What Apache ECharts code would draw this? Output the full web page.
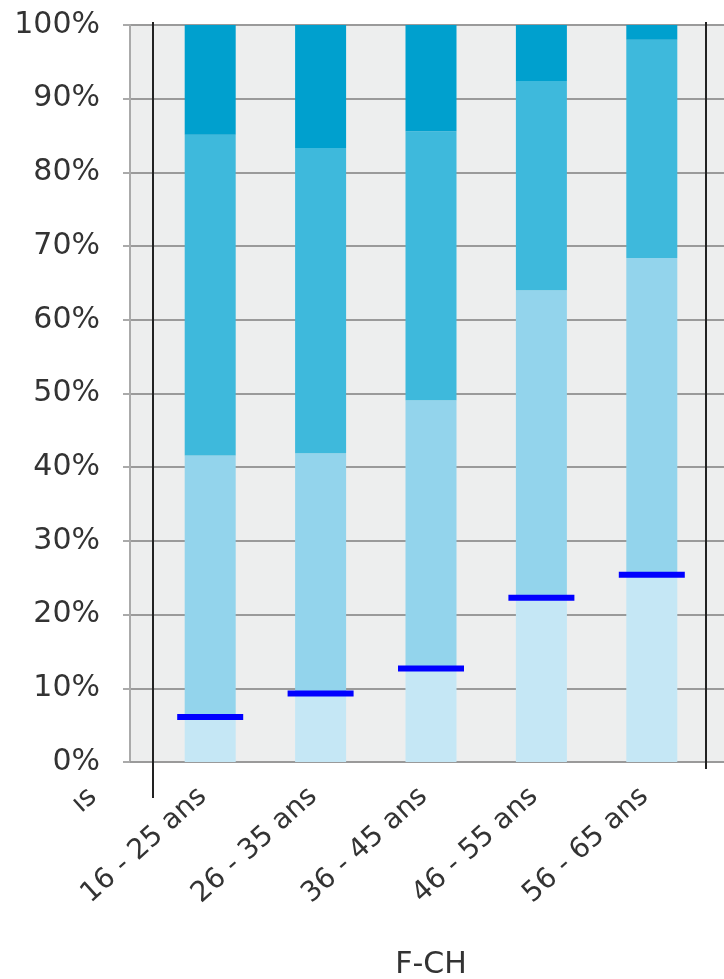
<!DOCTYPE html>
<html>
<head>
<meta charset="utf-8">
<script src="https://cdn.jsdelivr.net/npm/echarts@6/dist/echarts.min.js"></script>
<style>html,body{margin:0;padding:0;background:#fff}#c{width:724px;height:979px}</style>
</head>
<body>
<div id="c"></div>
<script>
var categories = ['16 - 25 ans', '26 - 35 ans', '36 - 45 ans', '46 - 55 ans', '56 - 65 ans'];
var seg1 = [6.1, 9.3, 12.7, 22.3, 25.4];
var seg2 = [35.5, 32.6, 36.4, 41.7, 43.0];
var seg3 = [43.5, 41.4, 36.5, 28.4, 29.6];
var seg4 = [14.9, 16.7, 14.4, 7.6, 2.0];
var markers = [6.1, 9.3, 12.7, 22.3, 25.4];
var yTicks = [0, 10, 20, 30, 40, 50, 60, 70, 80, 90, 100];
var groupName = 'F-CH';
var cutLabel = 'ıs';

var FONT = 'DejaVu Sans';
var chart = echarts.init(document.getElementById('c'));
function bar(name, data, color) {
  return {
    name: name, type: 'bar', stack: 'total', data: data, barWidth: 51,
    xAxisIndex: 0, yAxisIndex: 0,
    itemStyle: { color: color }, z: 3
  };
}
chart.setOption({
  animation: false,
  grid: [
    { left: 155, right: 17, top: 25, bottom: 217, show: false, containLabel: false, outerBoundsMode: 'none' },
    { left: 130, right: -20, top: 25, bottom: 217, show: true, backgroundColor: '#EDEEEE', borderWidth: 0, z: 0, containLabel: false, outerBoundsMode: 'none' }
  ],
  xAxis: [
    {
      type: 'category', gridIndex: 0, data: categories,
      axisLine: { show: false }, axisTick: { show: false },
      axisLabel: { rotate: 42, margin: 24, padding: [0, 10, 0, 0], fontFamily: FONT, fontSize: 28, color: '#333' },
      name: groupName, nameLocation: 'middle', nameGap: 188,
      nameTextStyle: { fontFamily: FONT, fontSize: 30, color: '#333' }
    },
    {
      type: 'value', gridIndex: 1, min: 0, max: 1,
      axisLabel: { show: false }, axisTick: { show: false }, splitLine: { show: false },
      axisLine: { show: true, lineStyle: { color: '#9a9a9a', width: 2 } }
    }
  ],
  yAxis: [
    { type: 'value', gridIndex: 0, min: 0, max: 100, show: false },
    {
      type: 'value', gridIndex: 1, min: 0, max: 100, interval: 10, offset: 7,
      axisLine: { show: true, lineStyle: { color: '#aaaaaa', width: 2 } },
      axisTick: { show: true, length: 7, lineStyle: { color: '#aaaaaa', width: 2 } },
      splitLine: { show: true, lineStyle: { color: '#9a9a9a', width: 2 } },
      axisLabel: {
        margin: 23, fontFamily: FONT, fontSize: 30, color: '#333',
        customValues: yTicks,
        formatter: function (v) { return v + '%'; }
      }
    }
  ],
  series: [
    bar('s1', seg1, '#C5E7F5'),
    bar('s2', seg2, '#93D4EC'),
    bar('s3', seg3, '#3EB9DC'),
    bar('s4', seg4, '#00A0CE'),
    {
      name: 'marker', type: 'scatter', xAxisIndex: 0, yAxisIndex: 0,
      data: markers, symbol: 'rect', symbolSize: [66, 6],
      itemStyle: { color: '#0000FF', opacity: 1 }, z: 5
    }
  ],
  graphic: [
    { type: 'line', shape: { x1: 153, y1: 22, x2: 153, y2: 798 }, style: { stroke: '#222', lineWidth: 2 }, z: 10 },
    { type: 'line', shape: { x1: 706, y1: 22, x2: 706, y2: 769 }, style: { stroke: '#222', lineWidth: 2 }, z: 10 },
    { type: 'text', x: 93, y: 793, rotation: 42 * Math.PI / 180,
      style: { text: cutLabel, font: '28px "DejaVu Sans"', fill: '#333', align: 'right', verticalAlign: 'middle' } }
  ]
});
</script>
</body>
</html>
